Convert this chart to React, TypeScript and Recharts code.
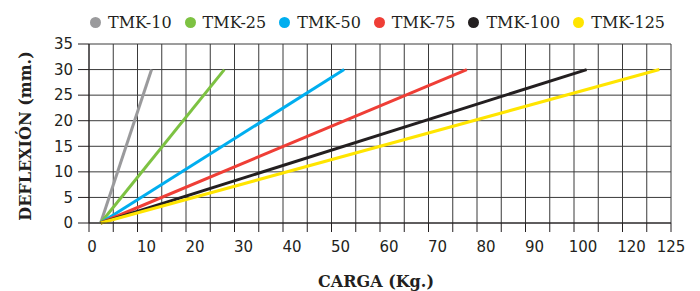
import React from "react";
import { LineChart, Line, XAxis, YAxis, CartesianGrid, Legend, Customized } from "recharts";

// series
const names = ["TMK-10", "TMK-25", "TMK-50", "TMK-75", "TMK-100", "TMK-125"];
const colors = ["#9a9a9c", "#7dc242", "#00aeef", "#ef3e36", "#231f20", "#ffe500"];
const startLoad = [2.4, 2.4, 2.4, 2.4, 2.4, 2.4];
const startDefl = [0, 0, 0, 0, 0, 0];
const endLoad = [12.9, 27.9, 52.6, 77.9, 102.6, 117.6];
const endDefl = [30, 30, 30, 30, 30, 30];

// axes
const xGridTicks = [0, 5, 10, 15, 20, 25, 30, 35, 40, 45, 50, 55, 60, 65, 70, 75, 80, 85, 90, 95, 100, 105, 110, 115, 120];
const xLabelAt = [0, 10, 20, 30, 40, 50, 60, 70, 80, 90, 100, 110, 120];
const xLabels = ["0", "10", "20", "30", "40", "50", "60", "70", "80", "90", "100", "120", "125"];
const yTicks = [0, 5, 10, 15, 20, 25, 30, 35];

const ink = "#231f20";
const tickFont = { fontFamily: "DejaVu Sans", fontSize: 15, fill: ink };

const XTick = (props: any) => {
  const { x, y, payload } = props;
  const i = xLabelAt.indexOf(payload.value);
  if (i < 0) return null;
  let dx = 9;
  if (i === 0) dx = 3;
  if (i === xLabelAt.length - 1) dx = 0;
  return (
    <text x={x + dx} y={y} dy="0.71em" textAnchor="middle" {...tickFont}>
      {xLabels[i]}
    </text>
  );
};

const LegendContent = () => (
  <div style={{ display: "flex", alignItems: "center", fontFamily: "DejaVu Serif", fontSize: 16, color: ink }}>
    {names.map((n, i) => (
      <div key={n} style={{ display: "flex", alignItems: "center", marginRight: 13 }}>
        <span style={{ width: 11, height: 11, borderRadius: "50%", background: colors[i], marginRight: 7, display: "inline-block" }} />
        <span>{n}</span>
      </div>
    ))}
  </div>
);

export default function App() {
  return (
    <div style={{ position: "absolute", left: 0, top: 0, width: 700, height: 291, background: "#fff" }}>
      <LineChart width={700} height={291} margin={{ top: 44, right: 29, left: 0, bottom: 0 }}>
        <CartesianGrid stroke="#3a3a3a" strokeWidth={1} />
        <XAxis
          type="number"
          dataKey="x"
          domain={[0, 120]}
          ticks={xGridTicks}
          interval={0}
          height={68}
          tickSize={9}
          tickMargin={9}
          tick={<XTick />}
          axisLine={{ stroke: ink }}
          tickLine={{ stroke: ink }}
          allowDataOverflow
        />
        <YAxis
          type="number"
          domain={[0, 35]}
          ticks={yTicks}
          interval={0}
          width={89}
          tickSize={11}
          tickMargin={5}
          tick={tickFont}
          axisLine={{ stroke: ink }}
          tickLine={{ stroke: ink }}
        />
        <Legend verticalAlign="middle" layout="horizontal" content={<LegendContent />} wrapperStyle={{ top: 13, left: 90, width: 600 }} />
        {names.map((n, i) => (
          <Line
            key={n}
            name={n}
            data={[
              { x: startLoad[i], y: startDefl[i] },
              { x: endLoad[i], y: endDefl[i] },
            ]}
            dataKey="y"
            stroke={colors[i]}
            strokeWidth={3}
            dot={false}
            activeDot={false}
            isAnimationActive={false}
          />
        ))}
        <Customized
          component={() => (
            <g fontFamily="DejaVu Serif" fontWeight="bold" fontSize={16} fill={ink}>
              <text x={376} y={287} textAnchor="middle">CARGA (Kg.)</text>
              <text x={25} y={136} textAnchor="middle" dominantBaseline="central" transform="rotate(-90 25 136)">
                DEFLEXIÓN (mm.)
              </text>
            </g>
          )}
        />
      </LineChart>
    </div>
  );
}
